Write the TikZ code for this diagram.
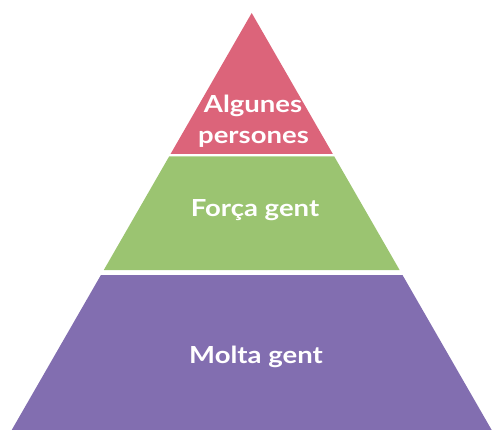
\documentclass[tikz,border=0pt]{standalone}
\usepackage{fontspec}
\setmainfont{Lato}
\newfontfamily\layerfont[FakeStretch=1.17]{Lato}
\definecolor{pinklayer}{RGB}{220,100,122}
\definecolor{greenlayer}{RGB}{155,196,113}
\definecolor{purplelayer}{RGB}{130,110,176}

\def\apexx{251.7}
\def\apexy{13}
\def\slope{0.5755}

\begin{document}
\begin{tikzpicture}[x=1pt, y=-1pt,
                    label text/.style={text=white, inner sep=0pt, anchor=base,
                      font=\layerfont\bfseries\fontsize{23.5}{28}\selectfont}
                   ]
    \useasboundingbox (0,0) rectangle (492,430);

    \foreach \ytop/\ybot/\col [evaluate={%
          \wt=\slope*(\ytop-\apexy);
          \wb=\slope*(\ybot-\apexy);
          }]
        in {13/154/pinklayer, 156.5/270/greenlayer, 275/430/purplelayer}{
        \fill [\col] (\apexx-\wt,\ytop) -- (\apexx+\wt,\ytop) --
            (\apexx+\wb,\ybot) -- (\apexx-\wb,\ybot) -- cycle;
    }

    \node [label text] (top1) at (253,113) {Algunes};
    \node [label text] (top2) at (253.5,144) {persones};
    \node [label text] (mid) at (255,216.7) {Força gent};
    \node [label text] (base) at (256,363.3) {Molta gent};

\end{tikzpicture}
\end{document}
